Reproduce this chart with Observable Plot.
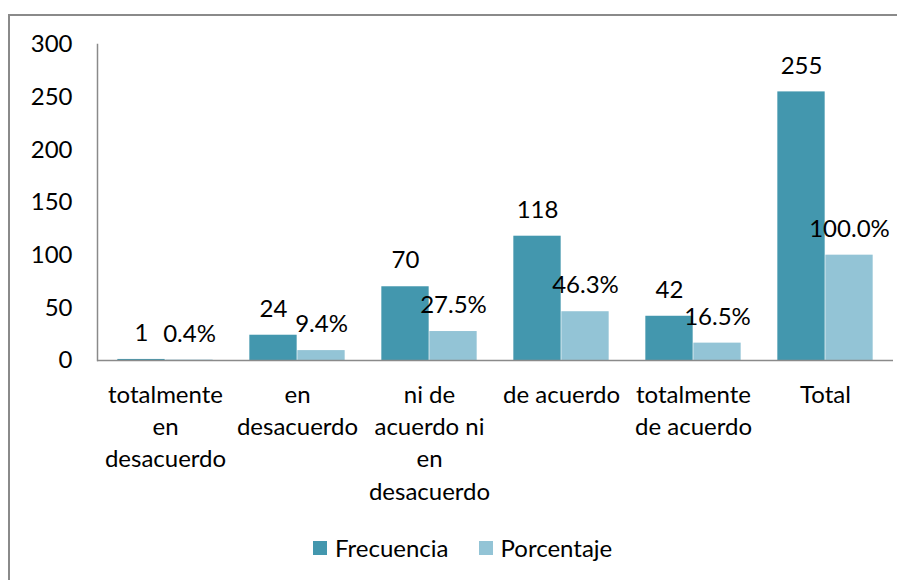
<!DOCTYPE html>
<html>
<head>
<meta charset="utf-8">
<script src="https://cdn.jsdelivr.net/npm/d3@7"></script>
<script src="https://cdn.jsdelivr.net/npm/@observablehq/plot@0.6"></script>
<style>
  html, body { margin: 0; padding: 0; background: #fff; }
  body { width: 897px; height: 580px; overflow: hidden; position: relative; font-family: Lato, "Open Sans", sans-serif; }
  #border { position: absolute; left: 8px; top: 14px; width: 960px; height: 640px; border: 2px solid #8a8a8a; box-sizing: border-box; pointer-events: none; }
  #chart { position: absolute; left: 0; top: 0; }
  #legend { position: absolute; left: 313px; top: 533px; display: flex; align-items: center; font-size: 24px; color: #000; }
  #legend .item { display: flex; align-items: center; margin-right: 30px; }
  #legend .sw { width: 14px; height: 14px; margin-right: 8px; }
</style>
</head>
<body>
<div id="chart"></div>
<div id="border"></div>
<div id="legend"></div>
<script>
const categories = ["totalmente en desacuerdo", "en desacuerdo", "ni de acuerdo ni en desacuerdo", "de acuerdo", "totalmente de acuerdo", "Total"];
const tickLabels = ["totalmente\nen\ndesacuerdo", "en\ndesacuerdo", "ni de\nacuerdo ni\nen\ndesacuerdo", "de acuerdo", "totalmente\nde acuerdo", "Total"];
const frecuencia = [1, 24, 70, 118, 42, 255];
const porcentaje = [0.4, 9.4, 27.5, 46.3, 16.5, 100.0];
const seriesNames = ["Frecuencia", "Porcentaje"];
const seriesColors = ["#4397ae", "#93c4d6"];
const yTicks = [0, 50, 100, 150, 200, 250, 300];

const rows = categories.map((c, i) => ({cat: c, label: tickLabels[i], freq: frecuencia[i], pct: porcentaje[i]}));
const labelOf = new Map(rows.map(r => [r.cat, r.label]));

const bandStep = (897 - 97 - 4) / categories.length;
const barW = 48;
const inset = (bandStep - barW) / 2;

const plot = Plot.plot({
  width: 897,
  height: 525,
  marginLeft: 97,
  marginRight: 4,
  marginTop: 44,
  marginBottom: 165,
  style: {fontFamily: "Lato, 'Open Sans', sans-serif", background: "transparent", color: "#000"},
  x: {domain: categories, padding: 0},
  y: {domain: [0, 300]},
  marks: [
    Plot.barY(rows, {x: "cat", y: "freq", fill: seriesColors[0], insetLeft: inset, insetRight: inset, dx: -barW / 2}),
    Plot.barY(rows, {x: "cat", y: "pct", fill: seriesColors[1], insetLeft: inset, insetRight: inset, dx: barW / 2}),
    Plot.text(rows, {x: "cat", y: "freq", text: d => String(d.freq), dx: -barW / 2, dy: -26, fontSize: 24, fill: "#000"}),
    Plot.text(rows, {x: "cat", y: "pct", text: d => d.pct.toFixed(1) + "%", dx: barW / 2, dy: -26, fontSize: 24, fill: "#000"}),
    Plot.ruleY([0], {stroke: "#8a8a8a", strokeWidth: 1.5}),
    Plot.frame({anchor: "left", stroke: "#8a8a8a", strokeWidth: 1.5}),
    Plot.axisY({ticks: yTicks, tickSize: 0, tickPadding: 25, fontSize: 24, label: null, tickFormat: d => String(d)}),
    Plot.axisX({tickSize: 0, tickPadding: 19, fontSize: 24, lineHeight: 1.35, label: null, tickFormat: d => labelOf.get(d)})
  ]
});
document.getElementById("chart").appendChild(plot);

const legend = document.getElementById("legend");
seriesNames.forEach((name, i) => {
  const item = document.createElement("div");
  item.className = "item";
  const sw = document.createElement("div");
  sw.className = "sw";
  sw.style.background = seriesColors[i];
  const t = document.createElement("span");
  t.textContent = name;
  item.appendChild(sw);
  item.appendChild(t);
  legend.appendChild(item);
});
</script>
</body>
</html>
